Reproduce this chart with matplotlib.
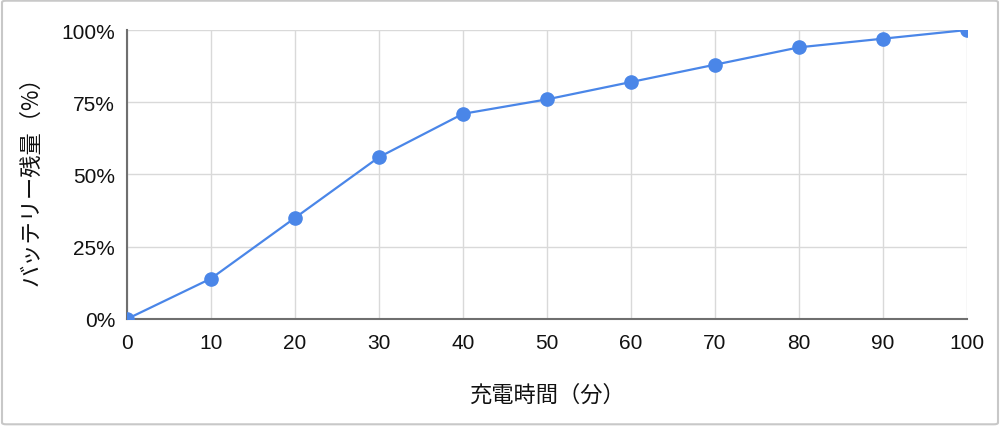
import matplotlib.pyplot as plt
from matplotlib.ticker import PercentFormatter
from matplotlib.patches import FancyBboxPatch

# charge time (minutes) vs remaining battery (%)
minutes = [0, 10, 20, 30, 40, 50, 60, 70, 80, 90, 100]
battery = [0, 14, 35, 56, 71, 76, 82, 88, 94, 97, 100]
y_ticks = [0, 25, 50, 75, 100]

plt.rcParams['font.family'] = ['Liberation Sans', 'Noto Sans CJK JP', 'DejaVu Sans']

fig = plt.figure(figsize=(10, 4.27), dpi=100)
ax = fig.add_axes([0.127, 0.2506, 0.840, 0.6768])

ax.plot(minutes, battery, color='#4a86e8', lw=1.6, marker='o', ms=9.5,
        markeredgecolor='#4a86e8', clip_on=True, zorder=3)

ax.set_xlim(0, 100)
ax.set_ylim(0, 100)
ax.set_xticks(minutes)
ax.set_yticks(y_ticks)
ax.yaxis.set_major_formatter(PercentFormatter(decimals=0))
ax.grid(True, color='#d9d9d9', lw=1)
ax.set_axisbelow(True)

for side in ['top', 'right']:
    ax.spines[side].set_visible(False)
for side in ['left', 'bottom']:
    ax.spines[side].set_color('#6f6f6f')
    ax.spines[side].set_linewidth(1.5)
ax.tick_params(length=0, labelsize=15, pad=8.5, colors='#111111')
ax.tick_params(axis='x', pad=10)

ax.set_xlabel('充電時間（分）', fontsize=16, family=['Noto Sans CJK JP', 'DejaVu Sans'],
              labelpad=22, color='#111111')
ax.set_ylabel('バッテリー残量（%）', fontsize=16, family=['Noto Sans CJK JP', 'DejaVu Sans'],
              labelpad=14, color='#111111')

# light frame around the whole figure
fig.patches.append(FancyBboxPatch((0.002, 0.004), 0.996, 0.992,
                                  boxstyle='round,pad=0,rounding_size=0.004',
                                  transform=fig.transFigure, fill=False,
                                  edgecolor='#c8c8c8', lw=1.5))

fig.savefig('out.png', dpi=100)
